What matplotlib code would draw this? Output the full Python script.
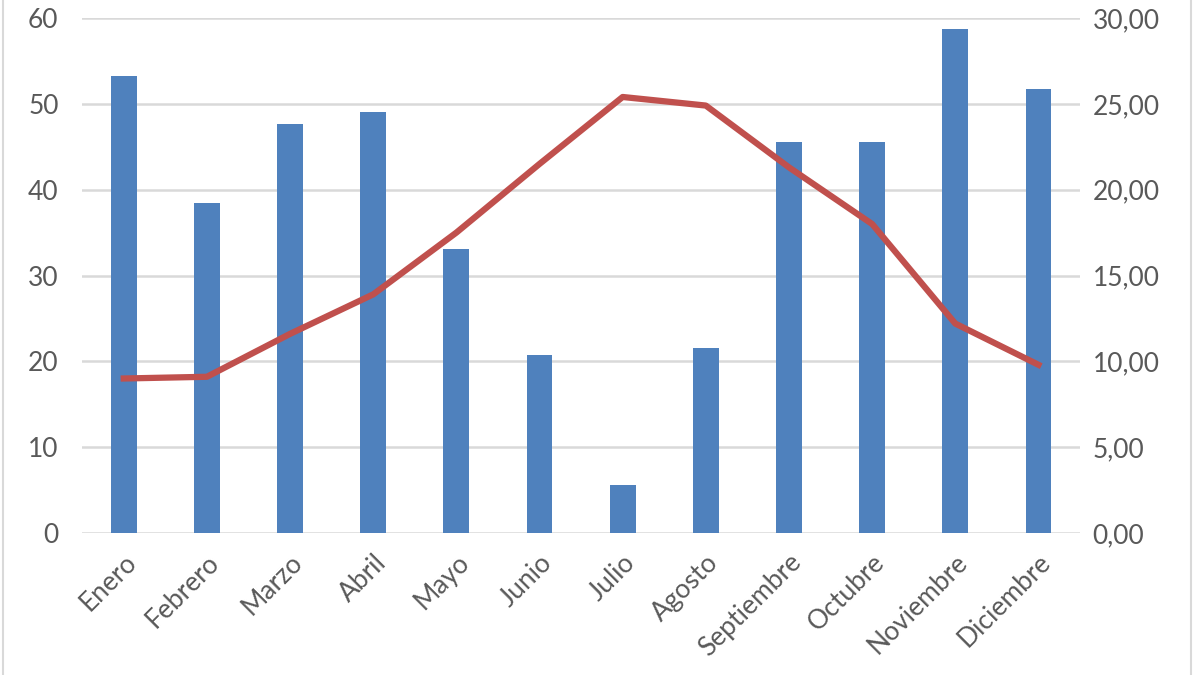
import matplotlib
matplotlib.use('Agg')
from matplotlib import pyplot as plt
from matplotlib.patches import Rectangle
import numpy as np

months = ['Enero', 'Febrero', 'Marzo', 'Abril', 'Mayo', 'Junio', 'Julio',
          'Agosto', 'Septiembre', 'Octubre', 'Noviembre', 'Diciembre']
precip = [53.2, 38.5, 47.7, 49.0, 33.1, 20.7, 5.6, 21.6, 45.5, 45.5, 58.7, 51.7]
temp = [9.0, 9.1, 11.6, 13.9, 17.5, 21.5, 25.4, 24.9, 21.3, 18.0, 12.2, 9.8]
left_ticks = [0, 10, 20, 30, 40, 50, 60]
right_ticks = [0, 5, 10, 15, 20, 25, 30]

plt.rcParams['font.family'] = ['Lato', 'DejaVu Sans']
text_color = '#595959'

fig = plt.figure(figsize=(12, 6.75), dpi=100)
fig.patches.append(Rectangle((0.0025, -0.01), 0.99, 1.02, transform=fig.transFigure,
                             fill=False, edgecolor='#d9d9d9', linewidth=1.5))

ax = fig.add_axes([0.0685, 0.2104, 0.8315, 0.7629])
x = np.arange(len(months))
ax.bar(x, precip, width=0.31, color='#4f81bd', zorder=2)
ax.set_xlim(-0.5, len(months) - 0.5)
ax.set_ylim(0, 60)
ax.set_yticks(left_ticks)
ax.grid(axis='y', color='#d9d9d9', linewidth=1.8, zorder=0)
ax.set_axisbelow(True)
for s in ax.spines.values():
    s.set_visible(False)
ax.tick_params(axis='both', length=0, labelsize=19, labelcolor=text_color)
ax.tick_params(axis='y', pad=17)
ax.set_xticks(x)
ax.set_xticklabels(months, rotation=45, ha='right', rotation_mode='anchor')
ax.tick_params(axis='x', pad=12)

ax2 = ax.twinx()
ax2.plot(x, temp, color='#c0504d', linewidth=4.5, solid_joinstyle='round', zorder=3)
ax2.set_ylim(0, 30)
ax2.set_yticks(right_ticks)
ax2.set_yticklabels([('%.2f' % v).replace('.', ',') for v in right_ticks])
for s in ax2.spines.values():
    s.set_visible(False)
ax2.tick_params(axis='y', length=0, labelsize=19, labelcolor=text_color, pad=9)

fig.savefig('out.png', dpi=100)
